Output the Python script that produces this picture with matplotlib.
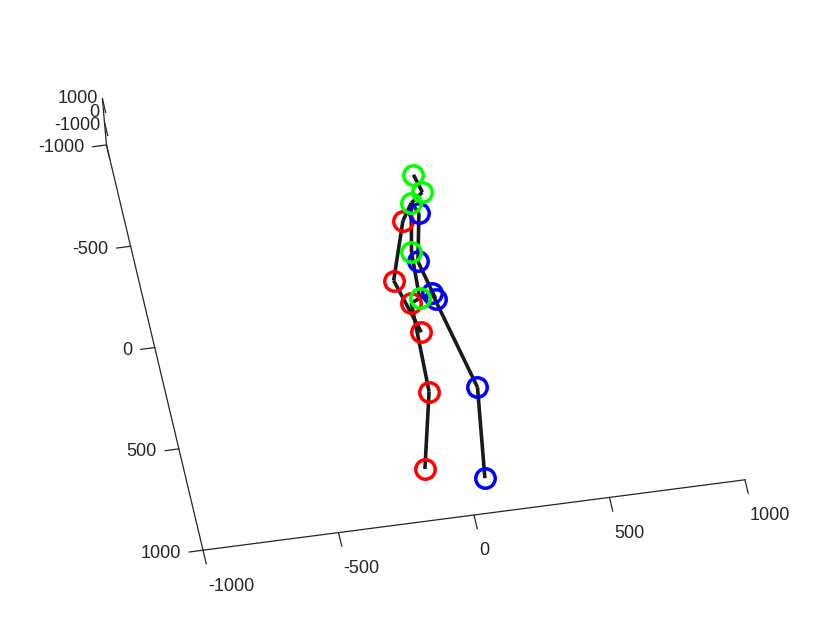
import numpy as np
import matplotlib
matplotlib.use("Agg")
import matplotlib.pyplot as plt
from mpl_toolkits.mplot3d import proj3d

# 17 joints (Human3.6M order), values in mm
joints = ['hip', 'r_hip', 'r_knee', 'r_foot', 'l_hip', 'l_knee', 'l_foot',
          'spine', 'thorax', 'neck', 'head',
          'l_shoulder', 'l_elbow', 'l_wrist', 'r_shoulder', 'r_elbow', 'r_wrist']
xs = [-22, -56, -68, -149, 26, 109, 58, -12, 29, 78, 61, 48, 3, 35, -16, -100, -45]
ys = [40, 58, 493, 861, 22, 502, 942, -186, -421, -466, -555, -368, -137, 53, -341, -61, 204]
zs = [0, 0, 0, 0, 0, 0, 0, 0, 0, 0, 0, 0, 0, 0, 0, 0, 0]

bones = [(0, 1), (1, 2), (2, 3), (0, 4), (4, 5), (5, 6), (0, 7), (7, 8), (8, 9),
         (9, 10), (8, 11), (11, 12), (12, 13), (8, 14), (14, 15), (15, 16)]
center_joints = [0, 7, 8, 9, 10]
right_joints = [1, 2, 3, 14, 15, 16]
left_joints = [4, 5, 6, 11, 12, 13]

ticks = [-1000, -500, 0, 500, 1000]
zticks = [-1000, 0, 1000]
lim = (-1000, 1000)

axcol = '#262626'
plt.rcParams['font.family'] = ['Liberation Sans', 'DejaVu Sans']

W, H = 822, 617
fig = plt.figure(figsize=(W / 100, H / 100), dpi=100)
ax = fig.add_axes([0.1, 0.1, 0.8, 0.8], projection='3d', proj_type='ortho')
ax.computed_zorder = False
ax.set_box_aspect((0.706, 1, 0.0704))
ax.view_init(elev=-32.2, azim=-85.5, roll=5)

xs, ys, zs = np.array(xs), np.array(ys), np.array(zs)

# skeleton
for a, b in bones:
    ax.plot([xs[a], xs[b]], [ys[a], ys[b]], [zs[a], zs[b]],
            color='#1a1a1a', lw=2.6, solid_capstyle='butt', zorder=3)
for idx, col in [(right_joints, '#ff0000'), (left_joints, '#0000ff'), (center_joints, '#00ff00')]:
    ax.plot(xs[idx], ys[idx], zs[idx], 'o', ms=14, mfc='none', mec=col, mew=2.5,
            ls='none', zorder=4)

# axis lines drawn like MATLAB (box off)
lo, hi = lim
ax.plot([lo, hi], [hi, hi], [lo, lo], color=axcol, lw=0.9, zorder=2)
ax.plot([lo, lo], [lo, hi], [lo, lo], color=axcol, lw=0.9, zorder=2)
ax.plot([lo, lo], [lo, lo], [lo, hi], color=axcol, lw=0.9, zorder=2)

labels = []  # (x, y, z, text, ha)
for t in ticks:
    # x ticks point along +y, y ticks along -x
    ax.plot([t, t], [hi, hi + 67], [lo, lo], color=axcol, lw=0.9, zorder=2)
    labels.append((t - 13, hi + 175, lo, str(t), 'left'))
    ax.plot([lo, lo - 51], [t, t], [lo, lo], color=axcol, lw=0.9, zorder=2)
    labels.append((lo - 82, t, lo, str(t), 'right'))
for t in zticks:
    ax.plot([lo, lo], [lo, lo + 67], [t, t], color=axcol, lw=0.9, zorder=2)
    # the z axis is seen almost end-on, MATLAB squeezes its labels together
    labels.append((lo - 17, lo, 450 + 0.6 * t, str(t), 'right'))

ax.set_xlim(lim)
ax.set_ylim(lim)
ax.set_zlim(lim)
ax.set_axis_off()


def to_px(x, y, z):
    px, py, _ = proj3d.proj_transform(x, y, z, ax.get_proj())
    return np.array(ax.transData.transform((px, py)))


# place the box so its front corners land where MATLAB put them
fig.canvas.draw()
p1 = to_px(lo, hi, lo)
p2 = to_px(hi, hi, lo)
pos = ax.get_position()
c0 = np.array([(pos.x0 + pos.width / 2) * W, (pos.y0 + pos.height / 2) * H])
L0 = pos.width * W
q1, q2 = (p1 - c0) / L0, (p2 - c0) / L0
t1, t2 = np.array([203, H - 550]), np.array([745, H - 480])
L = np.linalg.norm(t1 - t2) / np.linalg.norm(q1 - q2)
c = ((t1 - L * q1) + (t2 - L * q2)) / 2
ax.set_position([(c[0] - L / 2) / W, (c[1] - L / 2) / H, L / W, L / H])
fig.canvas.draw()

# tick labels as flat figure texts at their projected anchor points
for x, y, z, s, ha in labels:
    px, py = to_px(x, y, z)
    fig.text(px / W, py / H, s, ha=ha, va='center', fontsize=13, color=axcol)

fig.savefig('out.png', dpi=100, facecolor='white')
